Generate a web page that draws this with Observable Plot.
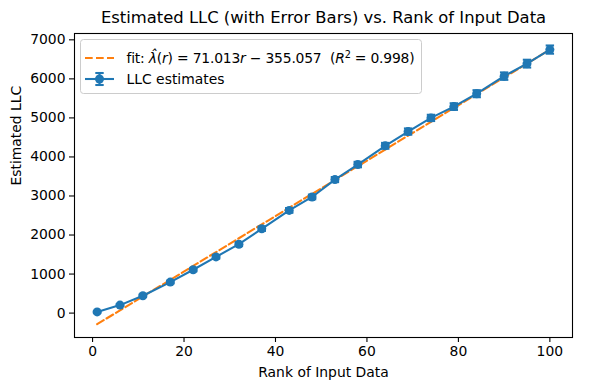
<!DOCTYPE html>
<html>
<head>
<meta charset="utf-8">
<script src="https://cdn.jsdelivr.net/npm/d3@7"></script>
<script src="https://cdn.jsdelivr.net/npm/@observablehq/plot@0.6"></script>
<style>
  html, body { margin: 0; padding: 0; background: #fff; }
  #wrap { position: relative; width: 590px; height: 390px; font-family: "DejaVu Sans", sans-serif; }
  #legend { position: absolute; left: 0; top: 0; pointer-events: none; }
</style>
</head>
<body>
<div id="wrap"></div>
<script>
// ---- data ----
const ranks = [1, 6, 11, 17, 22, 27, 32, 37, 43, 48, 53, 58, 64, 69, 74, 79, 84, 90, 95, 100];
const llc = [30, 205, 445, 795, 1110, 1440, 1765, 2160, 2630, 2975, 3420, 3805, 4285, 4650, 5000, 5290, 5620, 6070, 6390, 6750];
const llcErr = [15, 25, 30, 35, 40, 45, 50, 55, 60, 60, 65, 70, 75, 80, 80, 85, 90, 95, 100, 105];
const fitSlope = 71.013;
const fitIntercept = -355.057;
const fitR2 = 0.998;
const xTicks = [0, 20, 40, 60, 80, 100];
const yTicks = [0, 1000, 2000, 3000, 4000, 5000, 6000, 7000];
const titleText = "Estimated LLC (with Error Bars) vs. Rank of Input Data";
const xLabel = "Rank of Input Data";
const yLabel = "Estimated LLC";
const legendLabels = ["fit", "LLC estimates"];

const BLUE = "#1f77b4", ORANGE = "#ff7f0e";
const LW = 2.08;
const rows = ranks.map((r, i) => ({r, v: llc[i], lo: llc[i] - llcErr[i], hi: llc[i] + llcErr[i], fit: fitSlope * r + fitIntercept}));

const capSymbol = {
  draw(ctx, size) {
    const w = Math.sqrt(size / Math.PI);
    ctx.moveTo(-w, 0);
    ctx.lineTo(w, 0);
  }
};

const chart = Plot.plot({
  width: 590,
  height: 390,
  marginLeft: 74,
  marginRight: 18,
  marginTop: 33,
  marginBottom: 53,
  style: {fontFamily: "DejaVu Sans, sans-serif", fontSize: "13.9px", color: "#000", background: "#fff"},
  x: {domain: [-3.95, 104.95]},
  y: {domain: [-625, 7162]},
  marks: [
    Plot.frame({stroke: "#000", strokeWidth: 1.1}),
    Plot.axisX({ticks: xTicks, tickSize: 5, tickPadding: 4, tickFormat: d3.format("d"), label: null, fontSize: 13.9, strokeWidth: 1.1}),
    Plot.axisY({ticks: yTicks, tickSize: 5, tickPadding: 4, tickFormat: d3.format("d"), label: null, fontSize: 13.9, strokeWidth: 1.1}),
    Plot.line(rows, {x: "r", y: "fit", stroke: ORANGE, strokeWidth: LW, strokeDasharray: "7.7 3.3"}),
    Plot.ruleX(rows, {x: "r", y1: "lo", y2: "hi", stroke: BLUE, strokeWidth: LW}),
    Plot.dot(rows, {x: "r", y: "lo", symbol: capSymbol, r: 4.2, stroke: BLUE, strokeWidth: LW, fill: "none"}),
    Plot.dot(rows, {x: "r", y: "hi", symbol: capSymbol, r: 4.2, stroke: BLUE, strokeWidth: LW, fill: "none"}),
    Plot.line(rows, {x: "r", y: "v", stroke: BLUE, strokeWidth: LW}),
    Plot.dot(rows, {x: "r", y: "v", r: 4.5, fill: BLUE, stroke: "none"}),
    Plot.text([titleText], {frameAnchor: "top", dy: -16, fontSize: 16.4, fill: "#000", lineAnchor: "middle"}),
    Plot.text([xLabel], {frameAnchor: "bottom", dy: 35, fontSize: 13.9, fill: "#000", lineAnchor: "middle"}),
    Plot.text([yLabel], {frameAnchor: "left", dx: -58, rotate: -90, fontSize: 13.9, fill: "#000", lineAnchor: "middle"})
  ]
});

const wrap = document.getElementById("wrap");
wrap.appendChild(chart);

// legend overlay
const NS = "http://www.w3.org/2000/svg";
const lg = document.createElementNS(NS, "svg");
lg.setAttribute("id", "legend");
lg.setAttribute("width", 590);
lg.setAttribute("height", 390);
const fmt = d3.format(".3f");
lg.innerHTML = `
  <rect x="80.5" y="39.5" width="341" height="54" rx="3" fill="#fff" fill-opacity="0.8" stroke="#cccccc"/>
  <line x1="85" x2="114" y1="58" y2="58" stroke="${ORANGE}" stroke-width="${LW}" stroke-dasharray="7.7 3.3"/>
  <text x="126.5" y="63" font-family="DejaVu Sans" font-size="13.9" fill="#000" letter-spacing="-0.2">${legendLabels[0]}: <tspan font-style="italic">λ&#x0302;</tspan>(<tspan font-style="italic">r</tspan>) = ${fmt(fitSlope)}<tspan font-style="italic">r</tspan> − ${fmt(-fitIntercept)}<tspan xml:space="preserve">  (</tspan><tspan font-style="italic">R</tspan><tspan font-size="9.7" dy="-5">2</tspan><tspan dy="5"> = ${fmt(fitR2)})</tspan></text>
  <line x1="85" x2="114" y1="79" y2="79" stroke="${BLUE}" stroke-width="${LW}"/>
  <line x1="99.5" x2="99.5" y1="73" y2="85" stroke="${BLUE}" stroke-width="${LW}"/>
  <line x1="95.3" x2="103.7" y1="73" y2="73" stroke="${BLUE}" stroke-width="${LW}"/>
  <line x1="95.3" x2="103.7" y1="85" y2="85" stroke="${BLUE}" stroke-width="${LW}"/>
  <circle cx="99.5" cy="79" r="4.5" fill="${BLUE}"/>
  <text x="126.5" y="84" font-family="DejaVu Sans" font-size="13.9" fill="#000">${legendLabels[1]}</text>
`;
wrap.appendChild(lg);
</script>
</body>
</html>
